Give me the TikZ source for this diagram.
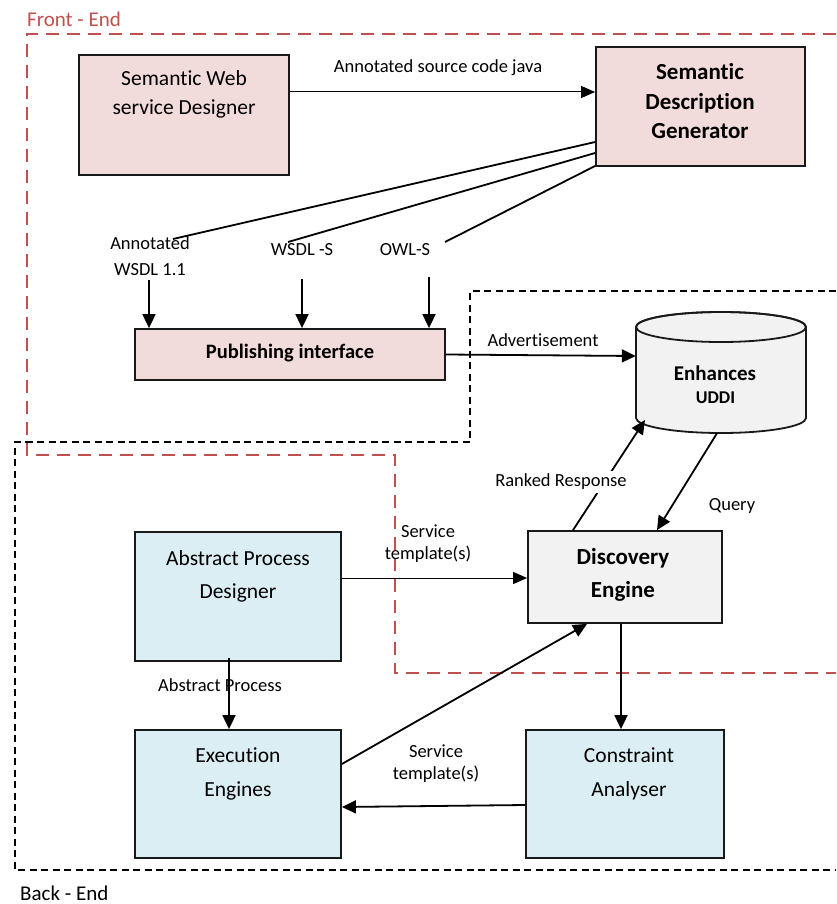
\documentclass[tikz,border=0pt]{standalone}
\usepackage{fontspec}
\setmainfont{Carlito}[Ligatures=NoCommon]
\usetikzlibrary{arrows.meta}
\definecolor{pinkfill}{RGB}{242,220,219}
\definecolor{bluefill}{RGB}{219,238,244}
\definecolor{greyfill}{RGB}{242,242,242}
\definecolor{frontred}{RGB}{192,80,77}
\definecolor{edge}{RGB}{25,25,25}
\begin{document}
\begin{tikzpicture}[x=1pt,y=-1pt,
  box/.style={draw=edge,line width=1.8pt,inner sep=0pt},
  pinkbox/.style={box,fill=pinkfill},
  bluebox/.style={box,fill=bluefill},
  greybox/.style={box,fill=greyfill},
  title/.style={align=center,font=\fontsize{21.5}{29}\selectfont,inner sep=0pt},
  boldtitle/.style={align=center,font=\bfseries\fontsize{23}{29.5}\selectfont,inner sep=0pt},
  lbl/.style={align=center,font=\fontsize{18.5}{22}\selectfont,inner sep=1pt},
  thinarr/.style={line width=1pt,-{Triangle[length=14pt,width=12pt]}},
  arr/.style={line width=1.8pt,-{Triangle[length=14pt,width=13pt]}},
  plainline/.style={line width=1.8pt},
  reddash/.style={draw=frontred,line width=2pt,dash pattern=on 13pt off 8pt},
  blackdash/.style={draw=black,line width=1.8pt,dash pattern=on 7pt off 4.5pt}]
\useasboundingbox (0,0) rectangle (836,904);

% front-end and back-end frames
\draw[reddash] (836,34) -- (27,34) -- (27,455) -- (395,455) -- (395,673) -- (836,673);
\draw[blackdash] (836,291) -- (470,291) -- (470,442) -- (15,442) -- (15,870) -- (836,870);
\node[anchor=west,inner sep=0pt,text=frontred,font=\fontsize{21}{24}\selectfont] (front) at (27,19) {Front - End};
\node[anchor=west,inner sep=0pt,font=\fontsize{21}{24}\selectfont] (back) at (20,893) {Back - End};

% front-end boxes
\node[pinkbox,minimum width=210pt,minimum height=120pt] (swd) at (184,115) {};
\node[title] (swdt) at (184,94.5) {Semantic Web\\service Designer};
\node[pinkbox,minimum width=209pt,minimum height=119pt] (sdg) at (700.5,106.5) {};
\node[boldtitle] (sdgt) at (700,101.5) {Semantic\\Description\\Generator};
\node[pinkbox,minimum width=310pt,minimum height=51pt] (pub) at (290,354.5) {};
\node[inner sep=0pt,font=\bfseries\fontsize{20.5}{24}\selectfont] (pubt) at (290,353) {Publishing interface};

% enhanced registry (cylinder)
\path[fill=greyfill,draw=edge,line width=1.8pt]
  (636,327) -- (636,418) arc[start angle=180,end angle=360,x radius=85pt,y radius=15pt]
  -- (806,327) arc[start angle=0,end angle=180,x radius=85pt,y radius=15pt] -- cycle;
\draw[edge,line width=1.8pt] (721,327) ellipse[x radius=85pt,y radius=15pt];
\node[minimum width=170pt,minimum height=121pt,inner sep=0pt] (uddi) at (721,372.5) {};
\node[inner sep=0pt,font=\bfseries\fontsize{21}{24}\selectfont] (uddit1) at (715,373) {Enhances};
\node[inner sep=0pt,font=\bfseries\fontsize{18}{22}\selectfont] (uddit2) at (715.5,398) {UDDI};

% back-end boxes
\node[greybox,minimum width=194pt,minimum height=92pt] (disc) at (625,577) {};
\node[boldtitle,font=\bfseries\fontsize{23}{33}\selectfont] (disct) at (623,574.5) {Discovery\\Engine};
\node[bluebox,minimum width=206pt,minimum height=129pt] (apd) at (238,596.5) {};
\node[title,font=\fontsize{21.5}{33}\selectfont] (apdt) at (238,576.5) {Abstract Process\\Designer};
\node[bluebox,minimum width=206pt,minimum height=128pt] (exe) at (238,794) {};
\node[title,font=\fontsize{21.5}{34}\selectfont] (exet) at (238,774) {Execution\\Engines};
\node[bluebox,minimum width=198pt,minimum height=128pt] (cons) at (625,794) {};
\node[title,font=\fontsize{21.5}{34}\selectfont] (const) at (629,774) {Constraint\\Analyser};

% description outputs
\node[lbl,font=\fontsize{18.5}{26}\selectfont] (annot) at (150,256) {Annotated\\WSDL 1.1};
\node[lbl] (wsdls) at (302,250) {WSDL -S};
\node[lbl] (owls) at (405,250) {OWL-S};
\coordinate (e1) at (173,239);
\coordinate (e2) at (288,242);
\coordinate (e3) at (445,242);
\draw[plainline] ([yshift=-35.5pt]sdg.west) -- (e1);
\draw[plainline] ([yshift=-46.5pt]sdg.west) -- (e2);
\draw[plainline] ([yshift=-59.5pt]sdg.west) -- (e3);
\coordinate (d1) at (149,280);
\coordinate (d2) at (302,279);
\coordinate (d3) at (429,277);
\draw[arr] (d1) -- ([xshift=-141pt]pub.north);
\draw[arr] (d2) -- ([xshift=12pt]pub.north);
\draw[arr] (d3) -- ([xshift=139pt]pub.north);

% front-end flows
\draw[thinarr] ([yshift=23pt]swd.east) -- ([yshift=14.5pt]sdg.west);
\node[lbl] (javalbl) at (438,68) {Annotated source code java};
\draw[arr] (pub.east) -- ([yshift=16.5pt]uddi.west);
\node[lbl] (advlbl) at (543,340) {Advertisement};

% discovery flows
\draw[arr] ([xshift=-52pt]disc.north) -- ([xshift=-76pt,yshift=-47.5pt]uddi.center);
\node[lbl,fill=white,inner sep=3pt] (rankedlbl) at (561,482) {Ranked Response};
\draw[arr] ([xshift=-4pt]uddi.south) -- ([xshift=32pt]disc.north);
\node[lbl] (querylbl) at (732,506) {Query};

% back-end flows
\draw[thinarr] ([yshift=18.5pt]apd.east) -- ([yshift=-1pt]disc.west);
\node[lbl] (svc1) at (428,543.5) {Service\\template(s)};
\draw[arr] ([xshift=-9pt,yshift=4pt]apd.south) -- ([xshift=-9pt]exe.north);
\node[lbl] (abslbl) at (220,685) {Abstract Process};
\draw[arr] ([xshift=-4pt]disc.south) -- ([xshift=-4pt]cons.north);
\draw[arr] ([yshift=30pt]exe.east) -- ([xshift=-38pt]disc.south);
\draw[arr] ([yshift=-11pt]cons.west) -- ([yshift=-13pt]exe.east);
\node[lbl] (svc2) at (436,763.5) {Service\\template(s)};
\end{tikzpicture}
\end{document}
